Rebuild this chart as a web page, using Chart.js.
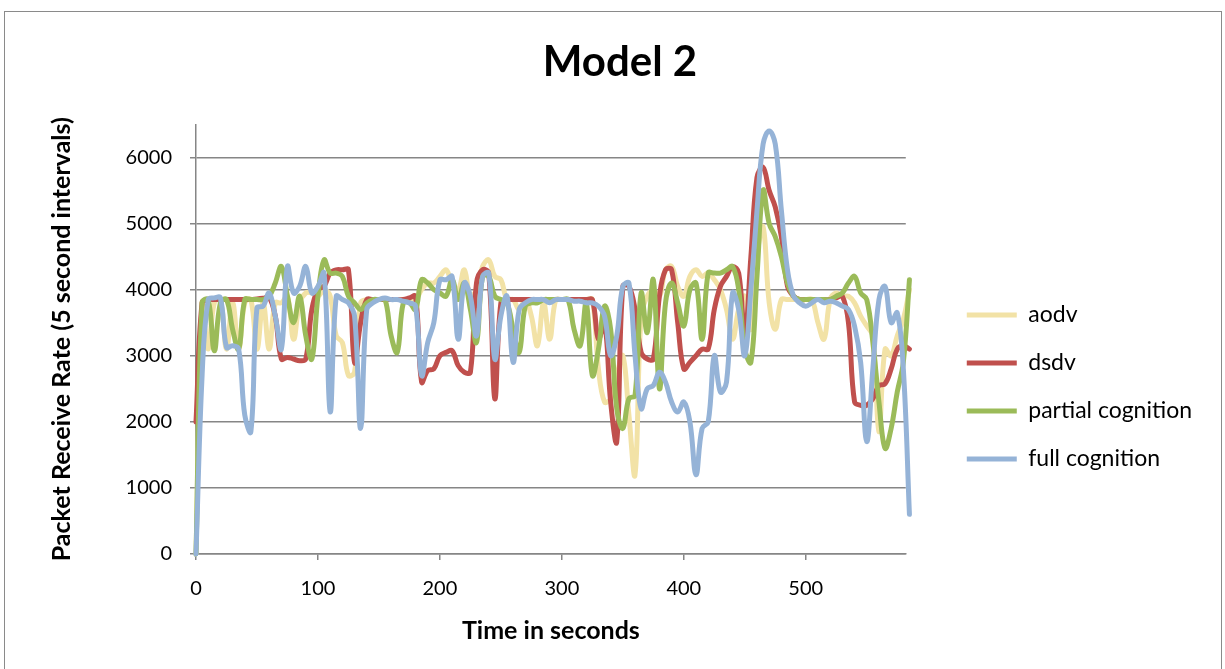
<!DOCTYPE html>
<html>
<head>
<meta charset="utf-8">
<script src="https://cdn.jsdelivr.net/npm/chart.js@4.4.0/dist/chart.umd.min.js"></script>
<style>
  html, body { margin: 0; padding: 0; background: #fff; }
  #wrap { position: relative; width: 1225px; height: 669px; overflow: hidden; }
  #frame { position: absolute; left: 4px; top: 11px; width: 1218px; height: 700px; border: 1px solid #8a8a8a; box-sizing: border-box; pointer-events: none; }
  canvas { position: absolute; left: 0; top: 0; }
</style>
</head>
<body>
<div id="wrap">
  <canvas id="model2Chart" width="1225" height="669"></canvas>
  <div id="frame"></div>
</div>
<script>
// time axis, 5 second intervals
var times = [
  0, 5, 10, 15, 20, 25, 30, 35, 40, 45, 50, 55,
  60, 65, 70, 75, 80, 85, 90, 95, 100, 105, 110, 115,
  120, 125, 130, 135, 140, 145, 150, 155, 160, 165, 170, 175,
  180, 185, 190, 195, 200, 205, 210, 215, 220, 225, 230, 235,
  240, 245, 250, 255, 260, 265, 270, 275, 280, 285, 290, 295,
  300, 305, 310, 315, 320, 325, 330, 335, 340, 345, 350, 355,
  360, 365, 370, 375, 380, 385, 390, 395, 400, 405, 410, 415,
  420, 425, 430, 435, 440, 445, 450, 455, 460, 465, 470, 475,
  480, 485, 490, 495, 500, 505, 510, 515, 520, 525, 530, 535,
  540, 545, 550, 555, 560, 565, 570, 575, 580, 585
];

var aodv = [
  0, 3800, 3100, 3800, 3850, 3100, 3800, 3100, 3800, 3850, 3100, 3800,
  3100, 3800, 3800, 3900, 3250, 3800, 3950, 3950, 3900, 4000, 3900, 3300,
  3200, 2700, 2750, 3800, 3850, 3850, 3850, 3850, 3850, 3850, 3850, 3850,
  3850, 4000, 4100, 4100, 4200, 4300, 4100, 4000, 4300, 3900, 4000, 4350,
  4450, 4200, 4150, 3850, 3850, 3700, 3850, 3600, 3150, 3800, 3250, 3850,
  3850, 3850, 3850, 3850, 3850, 3850, 2800, 2300, 2350, 2700, 3000, 2100,
  1200, 3600, 3900, 4000, 3900, 4300, 4350, 4050, 3900, 4200, 4300, 4200,
  4250, 4150, 4000, 3700, 3250, 3700, 3900, 3400, 4500, 4950, 3800, 3400,
  3850, 3850, 3850, 3850, 3850, 3850, 3500, 3250, 3850, 3950, 3900, 3900,
  3800, 3600, 3450, 3300, 1850, 3100, 3000, 3300, 3550, 4000
];

var dsdv = [
  2000, 3800, 3850, 3850, 3850, 3850, 3850, 3850, 3850, 3850, 3860, 3870,
  3880, 3600, 2950, 2975, 2950, 2925, 2950, 3700, 4000, 4050, 4250, 4300,
  4300, 4300, 2900, 3500, 3850, 3850, 3850, 3850, 3850, 3850, 3850, 3875,
  3900, 2600, 2775, 2800, 3000, 3050, 3075, 2850, 2750, 2750, 4100, 4300,
  4250, 2350, 3800, 3850, 3850, 3850, 3850, 3850, 3850, 3850, 3850, 3850,
  3850, 3850, 3850, 3850, 3850, 3850, 3250, 3500, 2300, 1700, 4050, 4050,
  3700, 3050, 2950, 2950, 3900, 4300, 4300, 3500, 2800, 2900, 3000, 3100,
  3100, 3700, 4050, 4200, 4350, 4250, 3300, 4500, 5700, 5850, 5500, 5250,
  4800, 4050, 3900, 3850, 3850, 3850, 3850, 3850, 3850, 3875, 3900, 3500,
  2300, 2250, 2250, 2350, 2550, 2575, 2800, 3100, 3150, 3100
];

var partialCognition = [
  0, 3800, 3850, 3075, 3800, 3850, 3400, 3100, 3850, 3850, 3850, 3850,
  3900, 4100, 4350, 3900, 3500, 3900, 3300, 2950, 3900, 4450, 4250, 4250,
  4200, 3900, 3800, 3700, 3800, 3850, 3850, 3850, 3300, 3050, 3800, 3800,
  3700, 4150, 4100, 4000, 3950, 3900, 4150, 3850, 4100, 3700, 3200, 4200,
  4200, 3900, 3850, 3800, 3400, 3050, 3750, 3800, 3800, 3850, 3850, 3850,
  3850, 3850, 3400, 3150, 3800, 2700, 3100, 3750, 3400, 2200, 1900, 2350,
  2400, 3950, 3350, 4150, 2500, 3800, 4100, 3800, 3450, 4000, 4100, 3250,
  4250, 4250, 4250, 4300, 4350, 4000, 3100, 2900, 4200, 5500, 5000, 4800,
  4500, 4100, 3900, 3850, 3850, 3850, 3850, 3850, 3850, 3900, 3950, 4100,
  4200, 3950, 3850, 3200, 2300, 1600, 1900, 2450, 2900, 4150
];

var fullCognition = [
  0, 2700, 3850, 3875, 3875, 3125, 3150, 3100, 2100, 1850, 3725, 3750,
  3950, 3600, 3100, 4350, 3950, 4050, 4350, 3950, 4050, 4250, 2150, 3900,
  3850, 3800, 3600, 1900, 3700, 3800, 3850, 3875, 3850, 3850, 3825, 3800,
  3750, 2700, 3200, 3500, 4150, 4150, 4200, 3250, 4100, 3900, 3300, 4200,
  4250, 2950, 3600, 3900, 2900, 3700, 3800, 3850, 3850, 3850, 3800, 3850,
  3850, 3850, 3825, 3825, 3800, 3800, 3750, 3600, 3000, 3300, 4050, 4100,
  3000, 2200, 2500, 2550, 2750, 2600, 2300, 2150, 2300, 2000, 1200, 1900,
  2000, 3000, 2450, 2600, 3950, 3700, 3000, 4000, 5200, 6200, 6400, 6200,
  5200, 4300, 3900, 3800, 3750, 3800, 3850, 3800, 3825, 3800, 3750, 3700,
  3450, 2900, 1700, 2800, 3850, 4050, 3500, 3650, 2800, 600
];

var seriesNames = ['aodv', 'dsdv', 'partial cognition', 'full cognition'];
var seriesColors = ['#F2E2A6', '#C0504D', '#9BBB59', '#95B3D7'];
var xTicks = [0, 100, 200, 300, 400, 500];
var yTicks = [0, 1000, 2000, 3000, 4000, 5000, 6000];

var FONT = 'Lato, "Open Sans", sans-serif';
Chart.defaults.font.family = FONT;
Chart.defaults.color = '#000';

function toPoints(values) {
    return times.map(function (t, i) { return { x: t, y: values[i] }; });
}

// measure texts so the plot lands at 196..906 and the legend at 967
var meas = document.createElement('canvas').getContext('2d');
meas.font = '23px ' + FONT;
var legendText = Math.max.apply(null, seriesNames.map(function (s) { return meas.measureText(s).width; }));
meas.font = '20px ' + FONT;
var yLabelW = meas.measureText('6000').width;

var legendLeft = 942;
var padRight = Math.round(1225 - legendLeft - (25 + 50 + 11.5 + legendText + 10));
var padLeft = padRight + 15;
var yTitleTop = Math.max(0, 62 - 15 - padLeft);
// chart.js counts the tick padding twice in the axis width
var yTitleBottom = 196 - (padLeft + yTitleTop + 30 + yLabelW + 18 * 2 + 6);

var ctx = document.getElementById('model2Chart').getContext('2d');
var allSeries = [aodv, dsdv, partialCognition, fullCognition];

window.model2Chart = new Chart(ctx, {
    type: 'line',
    data: {
        datasets: allSeries.map(function (values, i) {
            return {
                label: seriesNames[i],
                data: toPoints(values),
                borderColor: seriesColors[i],
                backgroundColor: seriesColors[i],
                borderWidth: 5,
                pointRadius: 0,
                tension: 0.4,
                borderCapStyle: 'round',
                borderJoinStyle: 'round',
                clip: 8,
                order: 4 - i
            };
        })
    },
    options: {
        responsive: false,
        animation: false,
        layout: { padding: { left: padLeft, right: padRight, top: 0, bottom: 24 } },
        plugins: {
            tooltip: { enabled: false },
            title: {
                display: true,
                text: 'Model 2',
                color: '#000',
                font: { size: 42, weight: 'bold' },
                padding: { top: 37, bottom: 37 }
            },
            legend: {
                position: 'right',
                align: 'start',
                maxWidth: 400,
                title: { display: true, text: '', padding: { top: 264, bottom: 0 } },
                labels: {
                    usePointStyle: true,
                    pointStyle: 'line',
                    pointStyleWidth: 50,
                    padding: 25,
                    color: '#000',
                    font: { size: 23 },
                    sort: function (a, b) { return a.datasetIndex - b.datasetIndex; }
                }
            }
        },
        scales: {
            x: {
                type: 'linear',
                min: 0,
                max: 582,
                afterBuildTicks: function (axis) {
                    axis.ticks = xTicks.map(function (v) { return { value: v }; });
                },
                ticks: { padding: 19, color: '#000', font: { size: 20, lineHeight: 1 }, callback: function (v) { return String(v); } },
                grid: { drawOnChartArea: false, drawTicks: true, tickLength: 6, color: '#868686', lineWidth: 1.5 },
                border: { color: '#868686', width: 1.5 },
                title: {
                    display: true,
                    text: 'Time in seconds',
                    color: '#000',
                    font: { size: 25, weight: 'bold', lineHeight: 1 },
                    padding: { top: 0, bottom: 2 }
                }
            },
            y: {
                min: 0,
                max: 6500,
                afterBuildTicks: function (axis) {
                    axis.ticks = yTicks.map(function (v) { return { value: v }; });
                },
                ticks: { padding: 18, color: '#000', font: { size: 20 }, callback: function (v) { return String(v); } },
                grid: { color: '#868686', lineWidth: 1.5, tickLength: 6 },
                border: { color: '#868686', width: 1.5 },
                title: {
                    display: true,
                    text: 'Packet Receive Rate (5 second intervals)',
                    color: '#000',
                    font: { size: 25, weight: 'bold' },
                    padding: { top: yTitleTop, bottom: yTitleBottom }
                }
            },
            // empty axis, only keeps the gap between plot and legend
            gap: {
                position: 'right',
                grid: { display: false },
                border: { display: false },
                ticks: { display: false },
                afterFit: function (axis) { axis.width = 36; }
            }
        }
    }
});
</script>
</body>
</html>
